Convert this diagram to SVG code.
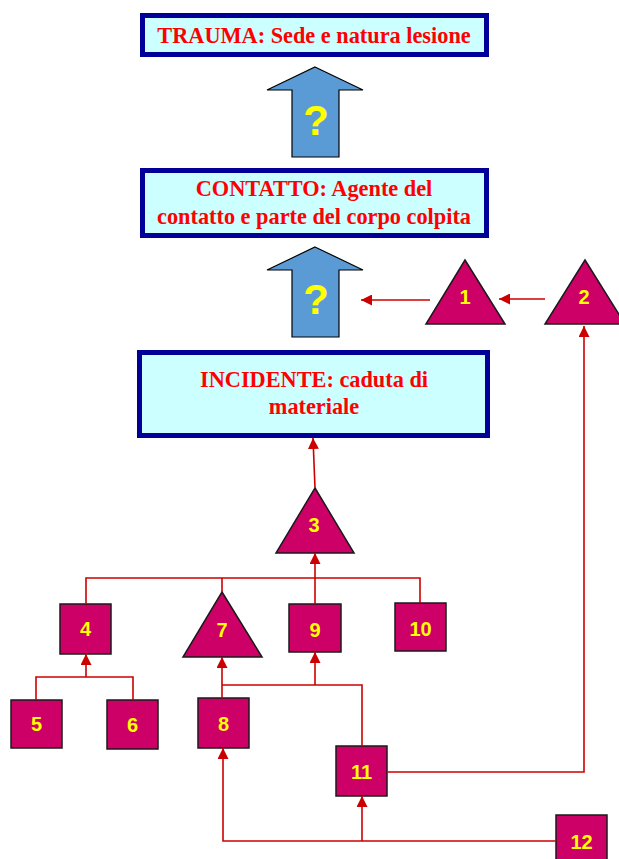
<svg xmlns="http://www.w3.org/2000/svg" width="619" height="859" viewBox="0 0 619 859">
<defs>
<style>
.box{fill:#CCFFFF;stroke:#000099;stroke-width:5}
.title{font-family:"Liberation Serif","Times New Roman",serif;font-weight:bold;font-size:22.3px;fill:#FF0000;text-anchor:middle}
.big{fill:#5B9BD5;stroke:#000;stroke-width:1.2}
.q{font-family:"Liberation Sans",Arial,sans-serif;font-weight:bold;font-size:42px;fill:#FFFF00;text-anchor:middle}
.n{fill:#CC0066;stroke:#1a1a1a;stroke-width:1.5}
.lbl{font-family:"Liberation Sans",Arial,sans-serif;font-weight:bold;font-size:20px;fill:#FFFF00;text-anchor:middle}
.c{fill:none;stroke:#CC0000;stroke-width:1.6}
</style>
<marker id="ah" viewBox="0 0 10 10" refX="10" refY="5" markerWidth="11" markerHeight="11" markerUnits="userSpaceOnUse" orient="auto">
<path d="M0,0 L10,5 L0,10 z" fill="#CC0000"/>
</marker>
</defs>
<rect width="619" height="859" fill="#FFFFFF"/>

<g id="trauma">
<rect class="box" x="142.5" y="15.5" width="344" height="39"/>
<text class="title" x="314" y="43">TRAUMA: Sede e natura lesione</text>
</g>

<g id="arrow-q1">
<path class="big" d="M315,67 L363,90 L339,90 L339,157 L292,157 L292,90 L267,90 Z"/>
<text class="q" x="316" y="135">?</text>
</g>

<g id="contatto">
<rect class="box" x="142.5" y="170.5" width="344" height="65"/>
<text class="title" x="314" y="196">CONTATTO: Agente del</text>
<text class="title" x="314" y="224">contatto e parte del corpo colpita</text>
</g>

<g id="arrow-q2">
<path class="big" d="M315,247 L363,270 L339,270 L339,337 L292,337 L292,270 L267,270 Z"/>
<text class="q" x="316" y="314">?</text>
</g>

<g id="incidente">
<rect class="box" x="139.5" y="352.5" width="348" height="83"/>
<text class="title" x="314" y="387">INCIDENTE: caduta di</text>
<text class="title" x="314" y="414">materiale</text>
</g>

<g id="n1">
<path class="n" d="M465,260 L505,324 L426,324 Z"/>
<text class="lbl" x="465" y="304">1</text>
</g>
<g id="n2">
<path class="n" d="M585,260 L625,324 L545,324 Z"/>
<text class="lbl" x="584" y="304">2</text>
</g>
<g id="n3">
<path class="n" d="M315,488 L354,553 L276,553 Z"/>
<text class="lbl" x="314" y="532">3</text>
</g>
<g id="n4">
<rect class="n" x="60" y="604" width="51" height="50"/>
<text class="lbl" x="85.5" y="636">4</text>
</g>
<g id="n5">
<rect class="n" x="11" y="700" width="51" height="48"/>
<text class="lbl" x="36.5" y="731">5</text>
</g>
<g id="n6">
<rect class="n" x="107" y="700" width="51" height="49"/>
<text class="lbl" x="132.5" y="732">6</text>
</g>
<g id="n7">
<path class="n" d="M222,592 L262,657 L183,657 Z"/>
<text class="lbl" x="222" y="637">7</text>
</g>
<g id="n8">
<rect class="n" x="198" y="698" width="51" height="50"/>
<text class="lbl" x="223.5" y="731">8</text>
</g>
<g id="n9">
<rect class="n" x="289" y="604" width="52" height="48"/>
<text class="lbl" x="315" y="637">9</text>
</g>
<g id="n10">
<rect class="n" x="395" y="603" width="51" height="48"/>
<text class="lbl" x="420.5" y="636">10</text>
</g>
<g id="n11">
<rect class="n" x="336" y="746" width="51" height="50"/>
<text class="lbl" x="361.5" y="779">11</text>
</g>
<g id="n12">
<rect class="n" x="556" y="815" width="51" height="50"/>
<text class="lbl" x="581.5" y="849">12</text>
</g>

<g id="connectors">
<path class="c" d="M430,300 L361,300" marker-end="url(#ah)"/>
<path class="c" d="M545,299 L499,299" marker-end="url(#ah)"/>
<path class="c" d="M315,488 L313,438" marker-end="url(#ah)"/>
<path class="c" d="M86,604 V578 H420 V603"/>
<path class="c" d="M222,592 V578"/>
<path class="c" d="M315,604 V553" marker-end="url(#ah)"/>
<path class="c" d="M36,700 V677 H133 V700"/>
<path class="c" d="M86,677 V654" marker-end="url(#ah)"/>
<path class="c" d="M222,698 V657" marker-end="url(#ah)"/>
<path class="c" d="M222,685 H362 V746"/>
<path class="c" d="M315,685 V652" marker-end="url(#ah)"/>
<path class="c" d="M387,772 H584 V326" marker-end="url(#ah)"/>
<path class="c" d="M556,841 H223 V748" marker-end="url(#ah)"/>
<path class="c" d="M362,841 V796" marker-end="url(#ah)"/>
</g>
</svg>
